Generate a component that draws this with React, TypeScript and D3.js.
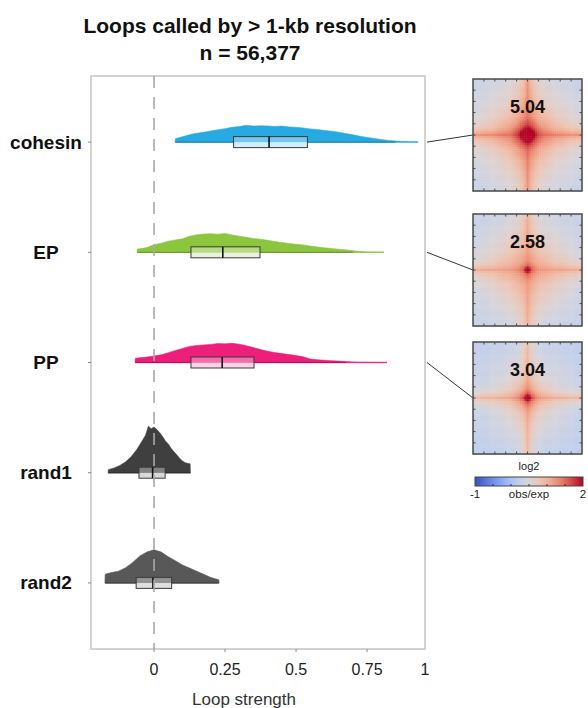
import React from "react";
import * as d3 from "d3";

// ---------- data ----------
const CATEGORIES = ["cohesin", "EP", "PP", "rand1", "rand2"];
const SERIES_COLORS = ["#27a9e1", "#8cc63f", "#ec1f7a", "#3f3f3f", "#585858"];
const STRENGTH_TICKS = [0, 0.25, 0.5, 0.75, 1];

// density profiles: [loop strength, density]
const cohesinDensity: [number, number][] = [
  [0.074, 0.0], [0.075, 0.4], [0.1, 0.62], [0.125, 0.85], [0.15, 1.02], [0.175, 1.12], [0.2, 1.28],
  [0.225, 1.42], [0.25, 1.55], [0.275, 1.7], [0.3, 1.78], [0.325, 1.93], [0.35, 1.84],
  [0.375, 1.88], [0.4, 1.86], [0.425, 1.8], [0.45, 1.84], [0.475, 1.74], [0.5, 1.7],
  [0.525, 1.62], [0.55, 1.52], [0.575, 1.45], [0.6, 1.34], [0.625, 1.25], [0.65, 1.14],
  [0.675, 0.98], [0.7, 0.84], [0.725, 0.68], [0.75, 0.54], [0.775, 0.42], [0.8, 0.3],
  [0.825, 0.2], [0.85, 0.12], [0.875, 0.06], [0.9, 0.02], [0.93, 0.0],
];
const epDensity: [number, number][] = [
  [-0.06, 0.0], [-0.059, 0.38], [-0.05, 0.4], [-0.025, 0.55], [0.0, 0.88], [0.025, 1.05], [0.05, 1.28],
  [0.075, 1.42], [0.1, 1.55], [0.125, 1.85], [0.15, 2.02], [0.175, 2.1], [0.2, 2.14],
  [0.225, 2.08], [0.25, 2.16], [0.275, 2.0], [0.3, 1.85], [0.325, 1.72], [0.35, 1.6],
  [0.375, 1.5], [0.4, 1.38], [0.425, 1.24], [0.45, 1.12], [0.475, 1.02], [0.5, 0.92],
  [0.525, 0.85], [0.55, 0.72], [0.575, 0.62], [0.6, 0.52], [0.625, 0.44], [0.65, 0.36],
  [0.675, 0.28], [0.7, 0.18], [0.725, 0.08], [0.75, 0.03], [0.81, 0.0],
];
const ppDensity: [number, number][] = [
  [-0.067, 0.0], [-0.066, 0.48], [-0.05, 0.55], [-0.025, 0.62], [0.0, 0.74], [0.025, 0.88], [0.05, 1.12],
  [0.075, 1.38], [0.1, 1.62], [0.125, 1.85], [0.15, 1.96], [0.175, 2.02], [0.2, 2.08],
  [0.225, 2.18], [0.25, 2.14], [0.275, 2.2], [0.3, 2.1], [0.325, 1.92], [0.35, 1.72],
  [0.375, 1.48], [0.4, 1.3], [0.425, 1.14], [0.45, 1.02], [0.475, 0.92], [0.5, 0.8],
  [0.525, 0.66], [0.55, 0.4], [0.575, 0.32], [0.6, 0.25], [0.625, 0.21], [0.65, 0.16],
  [0.675, 0.12], [0.7, 0.06], [0.725, 0.03], [0.75, 0.02], [0.82, 0.0],
];
const rand1Density: [number, number][] = [
  [-0.162, 0.0], [-0.161, 0.35], [-0.14, 0.55], [-0.12, 0.84], [-0.1, 1.25], [-0.08, 1.85], [-0.06, 2.7],
  [-0.04, 3.75], [-0.03, 4.3], [-0.02, 5.35], [-0.01, 5.05], [0.0, 5.25], [0.01, 4.95],
  [0.02, 4.6], [0.03, 4.15], [0.04, 3.65], [0.05, 3.3], [0.06, 2.8], [0.07, 2.4],
  [0.08, 2.05], [0.09, 1.65], [0.1, 1.35], [0.11, 1.15], [0.12, 1.05], [0.127, 1.02], [0.128, 0.0],
];
const rand2Density: [number, number][] = [
  [-0.173, 0.0], [-0.172, 1.0], [-0.15, 1.18], [-0.125, 1.35], [-0.1, 1.75], [-0.075, 2.35], [-0.05, 3.1],
  [-0.025, 3.55], [0.0, 3.8], [0.025, 3.55], [0.05, 3.0], [0.075, 2.55], [0.1, 2.05],
  [0.125, 1.7], [0.15, 1.35], [0.175, 0.98], [0.2, 0.62], [0.228, 0.35], [0.229, 0.0],
];
const DENSITIES = [cohesinDensity, epDensity, ppDensity, rand1Density, rand2Density];

// box statistics
const Q1 = [0.28, 0.13, 0.13, -0.053, -0.063];
const MEDIANS = [0.405, 0.242, 0.24, -0.005, -0.004];
const Q3 = [0.54, 0.373, 0.352, 0.039, 0.062];

// aggregate peak analysis panels (log2 obs/exp), sampled by distance from the loop pixel
const APA_LABELS = ["5.04", "2.58", "3.04"];
const APA_DIST = [0, 2, 4, 7, 11, 16, 22, 31];
const cohesinApaBackground = [2.6, 2.1, 1.5, 1.05, 0.8, 0.6, 0.45, 0.3];
const cohesinApaArm = [2.6, 2.2, 1.75, 1.5, 1.4, 1.3, 1.25, 1.2];
const epApaBackground = [2.3, 1.3, 1.0, 0.85, 0.7, 0.55, 0.4, 0.3];
const epApaArm = [2.3, 1.5, 1.3, 1.2, 1.15, 1.1, 1.05, 1.0];
const ppApaBackground = [2.4, 1.3, 0.9, 0.65, 0.5, 0.4, 0.3, 0.2];
const ppApaArm = [2.4, 1.6, 1.3, 1.15, 1.05, 1.0, 0.95, 0.9];
const APA_BACKGROUNDS = [cohesinApaBackground, epApaBackground, ppApaBackground];
const APA_ARMS = [cohesinApaArm, epApaArm, ppApaArm];
const APA_ARM_WIDTH = [2.4, 2.2, 1.7];
const COLORBAR_DOMAIN = [-1, 2];

// ---------- layout ----------
const W = 588;
const H = 708;
const PLOT = { left: 91, right: 425, top: 76, bottom: 649 };
const APA_BOX = { left: 473, width: 109, height: 112, tops: [79, 214, 342] };
const GRID_N = 51;
const FONT = "'Liberation Sans', Arial, Helvetica, sans-serif";

const coolwarm = d3.interpolateRgbBasis([
  "#3b4cc0", "#6f92f3", "#aac7fd", "#dddcdc", "#f7b89c", "#e7745b", "#b40426",
]);

function ApaPanel({ idx }: { idx: number }) {
  const top = APA_BOX.tops[idx];
  const left = APA_BOX.left;
  const cw = APA_BOX.width / GRID_N;
  const ch = APA_BOX.height / GRID_N;
  const c = (GRID_N - 1) / 2;
  const scaleToGrid = 22 / c;
  const bg = d3.scaleLinear(APA_DIST, APA_BACKGROUNDS[idx]).clamp(true);
  const arm = d3.scaleLinear(APA_DIST, APA_ARMS[idx]).clamp(true);
  const color = d3.scaleSequential(coolwarm).domain(COLORBAR_DOMAIN).clamp(true);
  const w = APA_ARM_WIDTH[idx];
  const cells: React.ReactElement[] = [];
  for (let i = 0; i < GRID_N; i++) {
    for (let j = 0; j < GRID_N; j++) {
      const di = Math.abs(i - c) * scaleToGrid;
      const dj = Math.abs(j - c) * scaleToGrid;
      const a = Math.min(di, dj);
      const b = Math.max(di, dj);
      const r = Math.hypot(di, dj);
      const spread = w * (1 + 4 / (1 + b));
      const v = bg(r) + (arm(b) - bg(b)) * Math.exp(-a / spread);
      cells.push(
        <rect
          key={`${i}-${j}`}
          x={left + j * cw}
          y={top + i * ch}
          width={cw + 0.4}
          height={ch + 0.4}
          fill={color(v)}
        />
      );
    }
  }
  const ticks = d3.range(1, 10).map((k) => k / 10);
  return (
    <g>
      {cells}
      <rect x={left} y={top} width={APA_BOX.width} height={APA_BOX.height} fill="none" stroke="#4a4a4a" strokeWidth={1.5} />
      {ticks.map((t) => (
        <g key={t} stroke="#4a4a4a" strokeWidth={1}>
          <line x1={left + t * APA_BOX.width} x2={left + t * APA_BOX.width} y1={top} y2={top + 2.5} />
          <line x1={left + t * APA_BOX.width} x2={left + t * APA_BOX.width} y1={top + APA_BOX.height} y2={top + APA_BOX.height - 2.5} />
          <line y1={top + t * APA_BOX.height} y2={top + t * APA_BOX.height} x1={left} x2={left + 2.5} />
          <line y1={top + t * APA_BOX.height} y2={top + t * APA_BOX.height} x1={left + APA_BOX.width} x2={left + APA_BOX.width - 2.5} />
        </g>
      ))}
      <text
        x={left + APA_BOX.width / 2}
        y={top + 34}
        textAnchor="middle"
        fontFamily={FONT}
        fontWeight="bold"
        fontSize={18}
        fill="#111"
      >
        {APA_LABELS[idx]}
      </text>
    </g>
  );
}

export default function App() {
  const x = d3.scaleLinear().domain([-0.222, 0.954]).range([PLOT.left, PLOT.right]);
  const y = d3.scalePoint<string>().domain(CATEGORIES).range([PLOT.top, PLOT.bottom]).padding(0.6);
  const h = d3.scaleLinear().domain([0, 5.4]).range([0, 47]);
  const half = 5.5;
  const colorbar = d3.scaleLinear().domain(COLORBAR_DOMAIN).range([475, 583]);
  const cbColor = d3.scaleSequential(coolwarm).domain(COLORBAR_DOMAIN);
  const cbStops = d3.range(0, 1.0001, 0.1);

  return (
    <svg width={W} height={H} style={{ position: "absolute", left: 0, top: 0, background: "#fff" }}>
      <defs>
        <linearGradient id="cb" x1="0" x2="1" y1="0" y2="0">
          {cbStops.map((t) => (
            <stop key={t} offset={t} stopColor={cbColor(COLORBAR_DOMAIN[0] + t * (COLORBAR_DOMAIN[1] - COLORBAR_DOMAIN[0]))} />
          ))}
        </linearGradient>
      </defs>

      {/* title */}
      <text x={250} y={33} textAnchor="middle" fontFamily={FONT} fontWeight="bold" fontSize={21} fill="#111">
        Loops called by &gt; 1-kb resolution
      </text>
      <text x={250} y={60} textAnchor="middle" fontFamily={FONT} fontWeight="bold" fontSize={21} fill="#111">
        n = 56,377
      </text>

      {/* plot frame */}
      <rect
        x={PLOT.left}
        y={PLOT.top}
        width={PLOT.right - PLOT.left}
        height={PLOT.bottom - PLOT.top}
        fill="none"
        stroke="#c4c4c4"
        strokeWidth={1.5}
      />

      {/* densities and boxes */}
      {CATEGORIES.map((cat, i) => {
        const base = y(cat)!;
        const col = SERIES_COLORS[i];
        const data = DENSITIES[i];
        const area = d3
          .area<[number, number]>()
          .x((d) => x(d[0]))
          .y0(base)
          .y1((d) => base - h(d[1]));
        const body = data.filter((d) => d[1] > 0.1);
        const tint = d3.interpolateRgb(col, "#ffffff");
        return (
          <g key={cat}>
            <line
              x1={x(data[0][0])}
              x2={x(data[data.length - 1][0])}
              y1={base}
              y2={base}
              stroke={tint(0.35)}
              strokeWidth={1.5}
            />
            <path d={area(data) ?? ""} fill={col} stroke={col} strokeWidth={0.6} />
            <line
              x1={x(body[0][0])}
              x2={x(body[body.length - 1][0])}
              y1={base}
              y2={base}
              stroke={d3.color(col)!.darker(0.9).formatHex()}
              strokeWidth={1}
            />
            <rect x={x(Q1[i])} y={base - half} width={x(Q3[i]) - x(Q1[i])} height={half} fill={tint(0.35)} />
            <rect x={x(Q1[i])} y={base} width={x(Q3[i]) - x(Q1[i])} height={half} fill={tint(0.8)} />
            <rect
              x={x(Q1[i])}
              y={base - half}
              width={x(Q3[i]) - x(Q1[i])}
              height={half * 2}
              fill="none"
              stroke="#3a3a3a"
              strokeWidth={1}
            />
            <line x1={x(MEDIANS[i])} x2={x(MEDIANS[i])} y1={base - half} y2={base + half} stroke="#111" strokeWidth={1.6} />
          </g>
        );
      })}

      {/* zero reference */}
      <line
        x1={x(0)}
        x2={x(0)}
        y1={PLOT.top}
        y2={PLOT.bottom}
        stroke="#a8a8a8"
        strokeWidth={1.6}
        strokeDasharray="12,9"
      />

      {/* category axis */}
      {CATEGORIES.map((cat) => (
        <g key={cat}>
          <line x1={PLOT.left - 3} x2={PLOT.left} y1={y(cat)} y2={y(cat)} stroke="#888" strokeWidth={1} />
          <text
            x={46}
            y={y(cat)! + 6.5}
            textAnchor="middle"
            fontFamily={FONT}
            fontWeight="bold"
            fontSize={19}
            fill="#111"
          >
            {cat}
          </text>
        </g>
      ))}

      {/* strength axis */}
      {STRENGTH_TICKS.map((t) => {
        const px = x(t);
        const inside = px <= PLOT.right;
        return (
          <g key={t}>
            {inside && <line x1={px} x2={px} y1={PLOT.bottom} y2={PLOT.bottom + 3} stroke="#888" strokeWidth={1} />}
            <text
              x={Math.min(px, PLOT.right)}
              y={675}
              textAnchor="middle"
              fontFamily={FONT}
              fontSize={16}
              fill="#222"
            >
              {String(t)}
            </text>
          </g>
        );
      })}
      <text x={244} y={705} textAnchor="middle" fontFamily={FONT} fontSize={17} fill="#333">
        Loop strength
      </text>

      {/* connectors to APA panels */}
      {[0, 1, 2].map((i) => (
        <line
          key={i}
          x1={PLOT.right + 2}
          y1={y(CATEGORIES[i])}
          x2={APA_BOX.left}
          y2={APA_BOX.tops[i] + APA_BOX.height / 2}
          stroke="#333"
          strokeWidth={1}
        />
      ))}

      {[0, 1, 2].map((i) => (
        <ApaPanel key={i} idx={i} />
      ))}

      {/* colour bar */}
      <text x={529} y={470} textAnchor="middle" fontFamily={FONT} fontSize={11} fill="#222">
        log2
      </text>
      <rect x={colorbar(-1)} y={477} width={colorbar(2) - colorbar(-1)} height={9} fill="url(#cb)" stroke="#444" strokeWidth={1} />
      {d3.range(1, 6).map((k) => {
        const v = COLORBAR_DOMAIN[0] + (k / 6) * (COLORBAR_DOMAIN[1] - COLORBAR_DOMAIN[0]);
        return <line key={k} x1={colorbar(v)} x2={colorbar(v)} y1={486} y2={484} stroke="#333" strokeWidth={1} />;
      })}
      <text x={colorbar(-1)} y={498} textAnchor="middle" fontFamily={FONT} fontSize={11.5} fill="#222">
        -1
      </text>
      <text x={(colorbar(-1) + colorbar(2)) / 2} y={498} textAnchor="middle" fontFamily={FONT} fontSize={11.5} fill="#222">
        obs/exp
      </text>
      <text x={colorbar(2)} y={498} textAnchor="middle" fontFamily={FONT} fontSize={11.5} fill="#222">
        2
      </text>
    </svg>
  );
}
